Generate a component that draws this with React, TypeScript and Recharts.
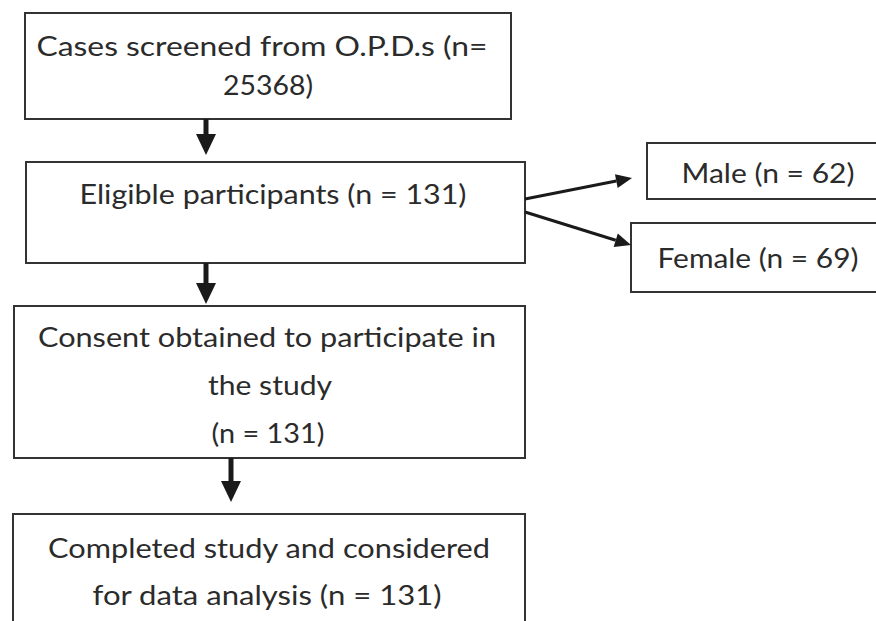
import React from "react";
import { ScatterChart, Scatter, XAxis, YAxis, ReferenceArea, ReferenceLine } from "recharts";

// flowchart drawn on a pixel-like number grid (x: 0..876, y: 0..621 top-down)
const boxX1 = [25, 26, 647, 631, 14, 13];
const boxX2 = [511, 525, 880, 880, 525, 525];
const boxY1 = [13, 162, 143, 223, 306, 514];
const boxY2 = [119, 263, 199, 292, 458, 640];

const arrowFrom = [
  { x: 206, y: 119 },
  { x: 206, y: 263 },
  { x: 231, y: 458 },
  { x: 525, y: 199 },
  { x: 525, y: 212 },
];
const arrowTo = [
  { x: 206, y: 155 },
  { x: 206, y: 304 },
  { x: 231, y: 502 },
  { x: 632, y: 178 },
  { x: 631, y: 245 },
];
const arrowBold = [true, true, true, false, false];

const labelText = [
  "Cases screened from O.P.D.s (n=",
  "25368)",
  "Eligible participants (n = 131)",
  "Male (n = 62)",
  "Female (n = 69)",
  "Consent obtained to participate in",
  "the study",
  "(n = 131)",
  "Completed study and considered",
  "for data analysis (n = 131)",
];
const labelX = [262, 268, 273, 768, 758, 267, 270, 268, 269, 267];
const labelY = [46, 85, 194, 173, 258, 337, 385, 433, 548, 595];
const labelWidth = [451, 90, 387, 173, 201, 458, 124, 113, 442, 349];

const labels = labelText.map((text, i) => ({
  x: labelX[i],
  y: labelY[i],
  text,
  w: labelWidth[i],
}));

const Arrow = (bold: boolean) => (props: any) => {
  const { x1, y1, x2, y2 } = props;
  const dx = x2 - x1;
  const dy = y2 - y1;
  const len = Math.sqrt(dx * dx + dy * dy) || 1;
  const ux = dx / len;
  const uy = dy / len;
  const headLen = bold ? 21 : 16;
  const headW = bold ? 10 : 7;
  const bx = x2 - ux * headLen;
  const by = y2 - uy * headLen;
  const pts = [
    `${x2},${y2}`,
    `${bx - uy * headW},${by + ux * headW}`,
    `${bx + uy * headW},${by - ux * headW}`,
  ].join(" ");
  return (
    <g>
      <line x1={x1} y1={y1} x2={bx} y2={by} stroke="#1a1a1a" strokeWidth={bold ? 5 : 3} />
      <polygon points={pts} fill="#1a1a1a" />
    </g>
  );
};

const LabelShape = (props: any) => {
  const { cx, cy, payload } = props;
  return (
    <text
      x={cx}
      y={cy}
      textAnchor="middle"
      dominantBaseline="central"
      textLength={payload.w}
      lengthAdjust="spacingAndGlyphs"
      fontFamily="Lato, 'Open Sans', sans-serif"
      fontSize={26}
      fill="#2b2b2b"
    >
      {payload.text}
    </text>
  );
};

export default function App() {
  return (
    <div style={{ position: "absolute", left: 0, top: 0, background: "#fff" }}>
      <ScatterChart width={876} height={621} margin={{ top: 0, right: 0, bottom: 0, left: 0 }}>
        <XAxis type="number" dataKey="x" domain={[0, 876]} hide />
        <YAxis type="number" dataKey="y" domain={[0, 621]} reversed hide />
        {boxX1.map((x1, i) => (
          <ReferenceArea
            key={`box-${i}`}
            x1={x1}
            x2={boxX2[i]}
            y1={boxY1[i]}
            y2={boxY2[i]}
            ifOverflow="visible"
            fill="#ffffff"
            fillOpacity={1}
            stroke="#333333"
            strokeWidth={2}
          />
        ))}
        {arrowFrom.map((from, i) => (
          <ReferenceLine
            key={`arrow-${i}`}
            segment={[from, arrowTo[i]]}
            ifOverflow="visible"
            shape={Arrow(arrowBold[i])}
          />
        ))}
        <Scatter data={labels} dataKey="y" shape={LabelShape} isAnimationActive={false} />
      </ScatterChart>
    </div>
  );
}
